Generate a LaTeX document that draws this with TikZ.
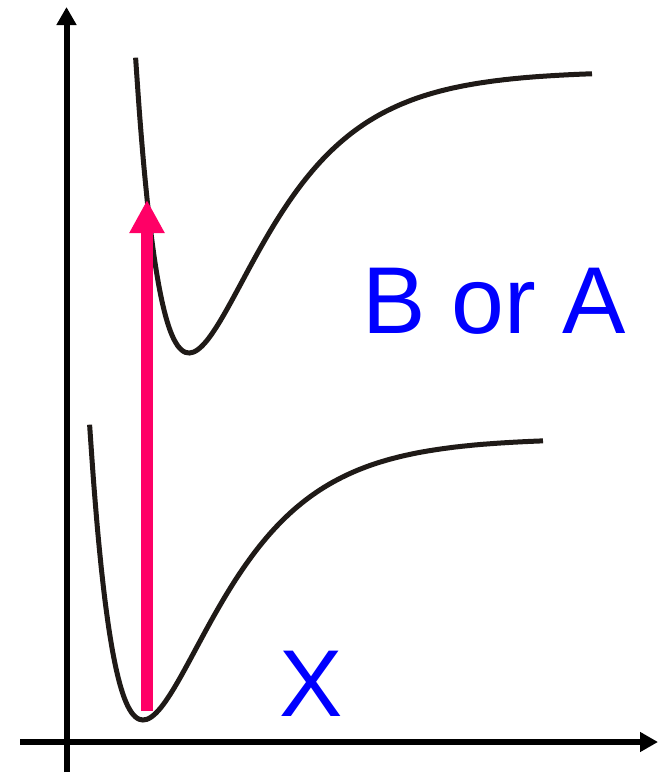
\documentclass[tikz,border=0pt]{standalone}
\usepackage{fontspec}
\setmainfont{Liberation Sans}
\usetikzlibrary{arrows.meta}
\definecolor{curvegray}{RGB}{31,26,23}
\definecolor{transpink}{RGB}{255,0,102}
\def\mydepth{282}
\def\mywidth{0.0132}

\begin{document}
\begin{tikzpicture}[x=1pt,y=-1pt,
  declare function={morse(\t)=\mydepth*(1-exp(-\mywidth*\t))*(1-exp(-\mywidth*\t));},
  axis/.style={line width=6pt,-{Triangle[width=19pt,length=18pt]}},
  well/.style={line width=5pt,curvegray,smooth},
  statelabel/.style={text=blue,font=\fontsize{95}{114}\selectfont,inner sep=0pt}]
\useasboundingbox (0,0) rectangle (664,774);
% the axes
\coordinate (yfoot) at (66.5,772);
\coordinate (ytip) at (66.5,7);
\coordinate (xfoot) at (20,742);
\coordinate (xtip) at (658,742);
\draw[axis] (yfoot) -- (ytip);
\draw[axis] (xfoot) -- (xtip);
% the ground state well
\draw[well] plot[domain=-53.4:400,samples=120] ({143+\x},{720-morse(\x)});
% the excited state well
\draw[well] plot[domain=-53.4:403,samples=120] ({189+\x},{353-morse(\x)});
% the labels
\node[statelabel,anchor=base] (X) at (311.5,716) {X};
\node[statelabel,anchor=base] (BA) at (494,333) {B or A};
% the vertical transition
\coordinate (lowv) at (147,711);
\coordinate (upv) at (147,200);
\draw[transpink,line width=12pt,-{Triangle[width=33pt,length=33pt]}] (lowv) -- (upv);
\end{tikzpicture}
\end{document}
